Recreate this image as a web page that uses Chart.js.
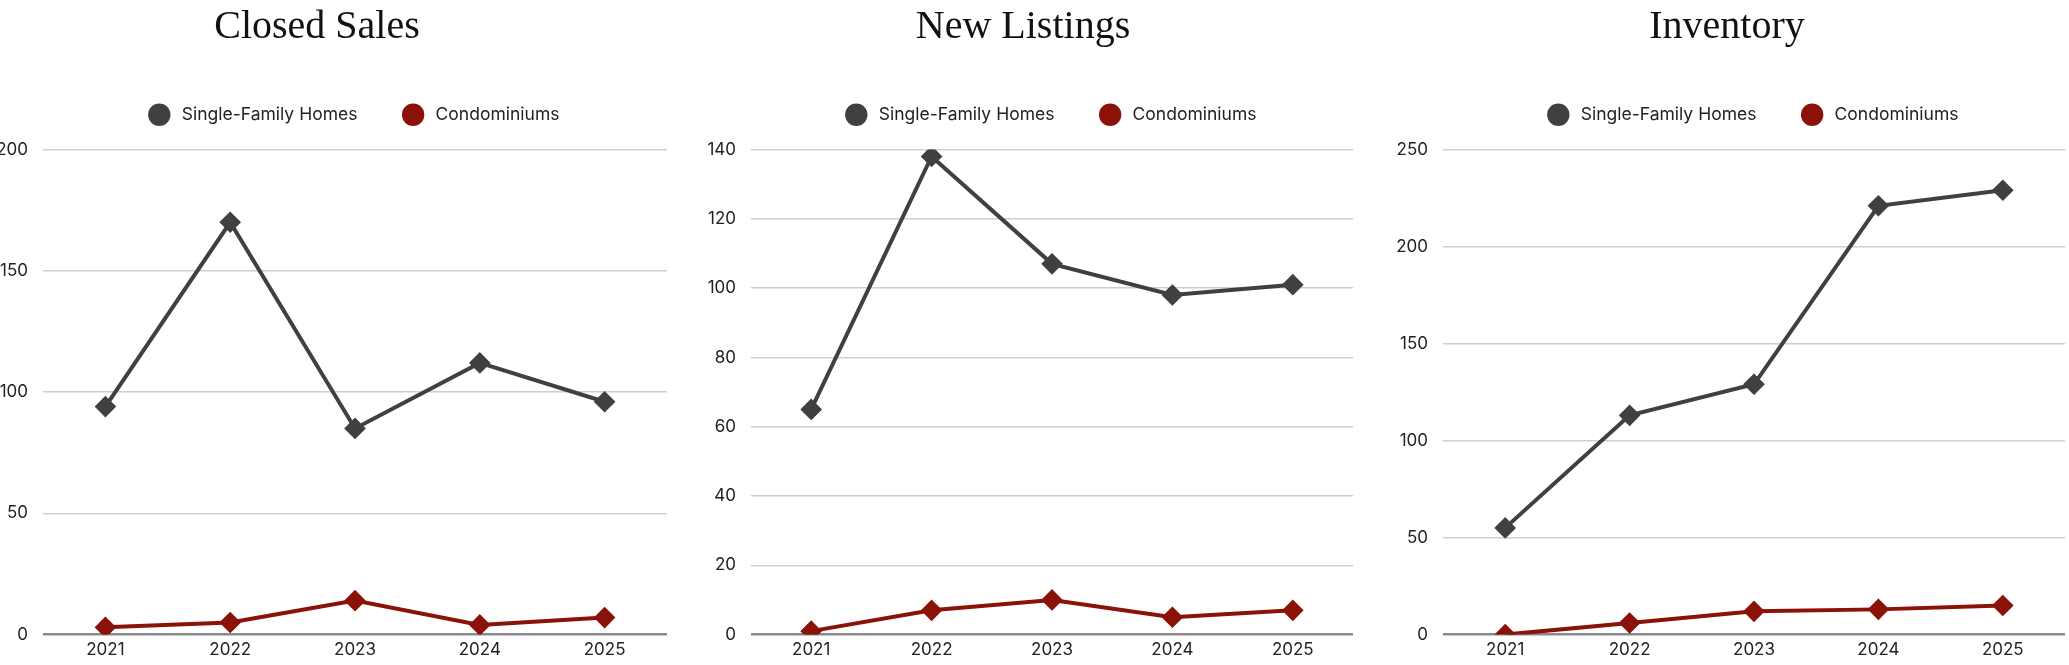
<!DOCTYPE html>
<html>
<head>
<meta charset="utf-8">
<script src="https://cdn.jsdelivr.net/npm/chart.js@4/dist/chart.umd.min.js"></script>
<style>
  html, body { margin: 0; padding: 0; background: #fff; }
  body { width: 2069px; height: 665px; position: relative; overflow: hidden; }
  .box { position: absolute; top: 0; height: 665px; }
</style>
</head>
<body>
<div class="box" style="left:-45px;width:724px"><canvas id="closedSales"></canvas></div>
<div class="box" style="left:681px;width:684px"><canvas id="newListings"></canvas></div>
<div class="box" style="left:1377px;width:700px"><canvas id="inventory"></canvas></div>
<script>
var years = ['2021', '2022', '2023', '2024', '2025'];
var seriesNames = ['Single-Family Homes', 'Condominiums'];

var closedSalesHomes = [94, 170, 85, 112, 96];
var closedSalesCondos = [3, 5, 14, 4, 7];
var newListingsHomes = [65, 138, 107, 98, 101];
var newListingsCondos = [1, 7, 10, 5, 7];
var inventoryHomes = [55, 113, 129, 221, 229];
var inventoryCondos = [0, 6, 12, 13, 15];

// y axis: max and step for each panel
var closedSalesTicks = [200, 50];
var newListingsTicks = [140, 20];
var inventoryTicks = [250, 50];

var homeColor = '#404040';
var condoColor = '#8b1208';

// push the plot area down a bit below the legend
var legendGap = {
    id: 'legendGap',
    beforeInit: function(chart) {
        var fit = chart.legend.fit;
        chart.legend.fit = function() {
            fit.bind(chart.legend)();
            this.height += 16;
        };
    }
};

function makeChart(id, title, homes, condos, ticks, axisWidth) {
    var ctx = document.getElementById(id);
    return new Chart(ctx, {
        type: 'line',
        data: {
            labels: years,
            datasets: [
                {
                    label: seriesNames[0],
                    data: homes,
                    borderColor: homeColor,
                    backgroundColor: homeColor,
                    borderWidth: 4,
                    pointStyle: 'rectRot',
                    pointRadius: 8,
                    pointHoverRadius: 8,
                    tension: 0,
                    fill: false
                },
                {
                    label: seriesNames[1],
                    data: condos,
                    borderColor: condoColor,
                    backgroundColor: condoColor,
                    borderWidth: 4,
                    pointStyle: 'rectRot',
                    pointRadius: 8,
                    pointHoverRadius: 8,
                    tension: 0,
                    fill: false
                }
            ]
        },
        options: {
            responsive: true,
            maintainAspectRatio: false,
            animation: false,
            layout: { padding: 0 },
            plugins: {
                tooltip: { enabled: false },
                title: {
                    display: true,
                    text: title,
                    color: '#111',
                    font: { family: 'Liberation Serif', size: 40, weight: 'normal' },
                    padding: { top: 3, bottom: 8 }
                },
                legend: {
                    position: 'top',
                    fullSize: false,
                    labels: {
                        usePointStyle: true,
                        pointStyle: 'circle',
                        boxWidth: 18,
                        boxHeight: 13,
                        padding: 47,
                        color: '#222',
                        font: { family: 'Inter', size: 17.5 },
                        generateLabels: function(chart) {
                            var items = Chart.defaults.plugins.legend.labels.generateLabels(chart);
                            items.forEach(function(it) { it.text = ' ' + it.text; });
                            return items;
                        }
                    }
                }
            },
            scales: {
                x: {
                    offset: true,
                    grid: { display: false, drawTicks: false },
                    border: { display: false },
                    ticks: {
                        padding: 5,
                        color: '#222',
                        font: { family: 'Inter', size: 17 }
                    }
                },
                y: {
                    min: 0,
                    max: ticks[0],
                    border: { display: false },
                    grid: {
                        drawTicks: false,
                        color: function(c) { return c.tick.value === 0 ? '#8a8a8a' : '#cfcfcf'; },
                        lineWidth: function(c) { return c.tick.value === 0 ? 2.5 : 1.5; }
                    },
                    ticks: {
                        stepSize: ticks[1],
                        padding: 15,
                        color: '#222',
                        font: { family: 'Inter', size: 17 }
                    },
                    afterFit: function(scale) { scale.width = axisWidth; }
                }
            }
        },
        plugins: [legendGap]
    });
}

makeChart('closedSales', 'Closed Sales', closedSalesHomes, closedSalesCondos, closedSalesTicks, 88);
makeChart('newListings', 'New Listings', newListingsHomes, newListingsCondos, newListingsTicks, 70);
makeChart('inventory', 'Inventory', inventoryHomes, inventoryCondos, inventoryTicks, 66);
</script>
</body>
</html>
